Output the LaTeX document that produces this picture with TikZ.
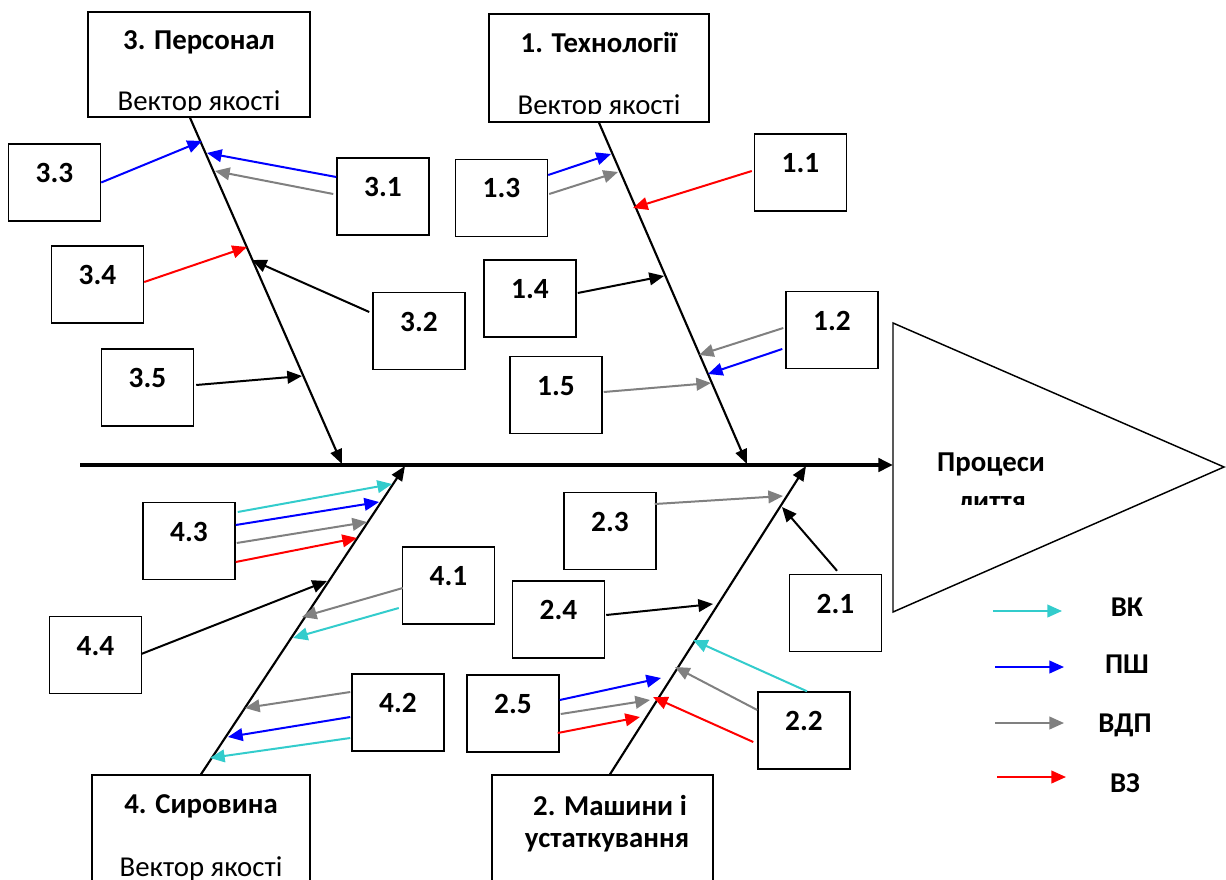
\documentclass[tikz,border=0pt]{standalone}
\usepackage{fontspec}
\setmainfont{Carlito}
\usetikzlibrary{arrows.meta,calc}
\definecolor{cvk}{RGB}{51,204,204}
\definecolor{cpsh}{RGB}{0,0,255}
\definecolor{cvdp}{RGB}{128,128,128}
\definecolor{cvz}{RGB}{255,0,0}
\begin{document}
\begin{tikzpicture}[x=0.75pt,y=-0.75pt,
  sb/.style={draw, line width=1.1pt, minimum width=69pt, minimum height=57.75pt, inner sep=0pt,
    text height=14pt, text depth=14pt, font=\bfseries\fontsize{22}{26}\selectfont},
  hb/.style={draw, line width=1.1pt, inner sep=0pt},
  ttl/.style={font=\bfseries\fontsize{21.6}{26}\selectfont, anchor=base, inner sep=0pt},
  sub/.style={font=\fontsize{21.6}{26}\selectfont, anchor=base, inner sep=0pt},
  lgt/.style={font=\bfseries\fontsize{21.5}{26}\selectfont, anchor=base, inner sep=0pt},
  bone/.style={line width=1.6pt, -{Triangle[length=11pt,width=9pt]}},
  ar/.style={line width=1.5pt, -{Triangle[length=11pt,width=9.5pt]}}]
\useasboundingbox (0,0) rectangle (1226,880);
\clip (0,0) rectangle (1226,880);

% ---------- category boxes ----------
\node[hb, minimum width=166.5pt, minimum height=78.75pt] (h3) at (199,64.5) {};
\begin{scope}
  \clip (88,12) rectangle (310,110.5);
  \node[ttl] (h3t) at (199,50) {3. Персонал};
  \node[sub] (h3s) at (199,110.5) {Вектор якості};
\end{scope}

\node[hb, minimum width=165pt, minimum height=81pt] (h1) at (599,68) {};
\begin{scope}
  \clip (489,14) rectangle (709,113.5);
  \node[ttl] (h1t) at (599,53) {1. Технології};
  \node[sub] (h1s) at (599,115) {Вектор якості};
\end{scope}

\node[hb, minimum width=163.5pt, minimum height=108.75pt] (h4) at (201,847.5) {};
\node[ttl] (h4t) at (201,813) {4. Сировина};
\node[sub] (h4s) at (201,876) {Вектор якості};

\node[hb, minimum width=165.75pt, minimum height=108.75pt] (h2) at (602.5,847.5) {};
\node[ttl] (h2a) at (610,815) {2. Машини і};
\node[ttl] (h2b) at (607,847) {устаткування};

% ---------- effect triangle ----------
\coordinate (tri) at (893,465);
\coordinate (sp0) at (80,465);
\draw[line width=1.1pt] (893,323) -- (1224,467) -- (893,612) -- cycle;
\begin{scope}
  \clip (896,420) rectangle (1100,504);
  \node[ttl] (eff1) at (991,471) {Процеси};
  \node[ttl] (eff2) at (992,510) {лиття};
\end{scope}
\draw[line width=2.6pt, -{Triangle[length=11pt,width=10pt]}] (sp0) -- (tri);

% ---------- bones ----------
\coordinate (j3) at (342,464);
\coordinate (j1) at (747,464);
\coordinate (j4) at (405,466);
\coordinate (j2) at (806,466);
\draw[bone] ($(h3.south)+(-9,0)$) -- (j3);
\draw[bone] (h1.south) -- (j1);
\draw[bone] (h4.north) -- (j4);
\draw[bone] ($(h2.north)+(7.5,0)$) -- (j2);

% ---------- small boxes ----------
\node[sb] (b33) at (54.5,182.5) {3.3};
\node[sb] (b31) at (383,196.5) {3.1};
\node[sb] (b34) at (97.5,284.5) {3.4};
\node[sb] (b32) at (419,331) {3.2};
\node[sb] (b35) at (147.5,387.5) {3.5};
\node[sb] (b11) at (800.5,172.5) {1.1};
\node[sb] (b13) at (501.5,198) {1.3};
\node[sb] (b14) at (530,298.5) {1.4};
\node[sb] (b12) at (832,330) {1.2};
\node[sb] (b15) at (556,395) {1.5};
\node[sb] (b43) at (189,541) {4.3};
\node[sb] (b41) at (448.5,585.5) {4.1};
\node[sb] (b44) at (95.5,655) {4.4};
\node[sb] (b42) at (398,712.5) {4.2};
\node[sb] (b23) at (610,531) {2.3};
\node[sb] (b24) at (558.5,619.5) {2.4};
\node[sb] (b21) at (835.5,613) {2.1};
\node[sb] (b25) at (513,713.5) {2.5};
\node[sb] (b22) at (804,730.5) {2.2};

% ---------- tips on bones ----------
\coordinate (t33) at (202,141);
\coordinate (t31a) at (207,153);
\coordinate (t31b) at (215,171);
\coordinate (t34) at (247,247);
\coordinate (t32) at (252,260);
\coordinate (t35) at (302,376);
\coordinate (t13a) at (611,154);
\coordinate (t13b) at (618,172);
\coordinate (t11) at (633,208);
\coordinate (t14) at (664,276);
\coordinate (t12a) at (699,355);
\coordinate (t12b) at (708,374);
\coordinate (t15) at (711,383);
\coordinate (t43a) at (392,484);
\coordinate (t43b) at (379,502);
\coordinate (t43c) at (367,522);
\coordinate (t43d) at (357,538);
\coordinate (t44) at (327,581);
\coordinate (t41a) at (302,617);
\coordinate (t41b) at (293,638);
\coordinate (t42a) at (245,708);
\coordinate (t42b) at (228,737);
\coordinate (t42c) at (210,758);
\coordinate (t23) at (783,496);
\coordinate (t21) at (782,507);
\coordinate (t24) at (713,604);
\coordinate (t22a) at (693,640);
\coordinate (t22b) at (675,667);
\coordinate (t22c) at (653,697);
\coordinate (t25a) at (661,678);
\coordinate (t25b) at (650,700);
\coordinate (t25c) at (640,717);

% ---------- arrows ----------
\draw[ar, cpsh] (b33.east) -- (t33);
\draw[ar, cpsh] ($(b31.west)+(0,-19.5)$) -- (t31a);
\draw[ar, cvdp] ($(b31.west)+(-3,-2.5)$) -- (t31b);
\draw[ar, cvz] ($(b34.east)+(0,-2.5)$) -- (t34);
\draw[ar, black] ($(b32.west)+(-3,-19)$) -- (t32);
\draw[ar, black] ($(b35.east)+(2,-2.5)$) -- (t35);

\draw[ar, cpsh] ($(b13.east)+(0,-23)$) -- (t13a);
\draw[ar, cvdp] ($(b13.east)+(1,-4)$) -- (t13b);
\draw[ar, cvz] ($(b11.west)+(-2,-1.5)$) -- (t11);
\draw[ar, black] ($(b14.east)+(1,-5.5)$) -- (t14);
\draw[ar, cvdp] ($(b12.west)+(-2,-2)$) -- (t12a);
\draw[ar, cpsh] ($(b12.west)+(-3,19)$) -- (t12b);
\draw[ar, cvdp] ($(b15.east)+(1,-3)$) -- (t15);

\draw[ar, cvk] ($(b43.east)+(2,-29)$) -- (t43a);
\draw[ar, cpsh] ($(b43.east)+(0,-16)$) -- (t43b);
\draw[ar, cvdp] ($(b43.east)+(1,2)$) -- (t43c);
\draw[ar, cvz] ($(b43.east)+(0,21)$) -- (t43d);
\draw[ar, black] ($(b44.east)+(-1,-1)$) -- (t44);
\draw[ar, cvdp] ($(b41.west)+(1,2.5)$) -- (t41a);
\draw[ar, cvk] ($(b41.west)+(-3,22.5)$) -- (t41b);
\draw[ar, cvdp] ($(b42.west)+(-1,-20.5)$) -- (t42a);
\draw[ar, cpsh] ($(b42.west)+(-1,4.5)$) -- (t42b);
\draw[ar, cvk] ($(b42.west)+(-1,25.5)$) -- (t42c);

\draw[ar, cvdp] ($(b23.east)+(-2,-27)$) -- (t23);
\draw[ar, black] ($(b21.north)+(1.5,-3)$) -- (t21);
\draw[ar, black] ($(b24.east)+(1,-4.5)$) -- (t24);
\draw[ar, cvk] ($(b22.north)+(3,0)$) -- (t22a);
\draw[ar, cvdp] ($(b22.west)+(0,-20.5)$) -- (t22b);
\draw[ar, cvz] ($(b22.west)+(-4,11.5)$) -- (t22c);
\draw[ar, cpsh] ($(b25.east)+(0,-13.5)$) -- (t25a);
\draw[ar, cvdp] ($(b25.east)+(1,0.5)$) -- (t25b);
\draw[ar, cvz] ($(b25.east)+(-2,19.5)$) -- (t25c);

% ---------- legend ----------
\coordinate (l1a) at (993,611);  \coordinate (l1b) at (1062,611);
\coordinate (l2a) at (995,667);  \coordinate (l2b) at (1064,667);
\coordinate (l3a) at (995,723);  \coordinate (l3b) at (1064,723);
\coordinate (l4a) at (997,777);  \coordinate (l4b) at (1066,777);
\draw[ar, cvk] (l1a) -- (l1b);
\draw[ar, cpsh] (l2a) -- (l2b);
\draw[ar, cvdp] (l3a) -- (l3b);
\draw[ar, cvz] (l4a) -- (l4b);
\node[lgt] (lg1) at (1127,616) {ВК};
\node[lgt] (lg2) at (1127,673) {ПШ};
\node[lgt] (lg3) at (1125,732) {ВДП};
\node[lgt] (lg4) at (1125,792) {ВЗ};
\end{tikzpicture}
\end{document}
